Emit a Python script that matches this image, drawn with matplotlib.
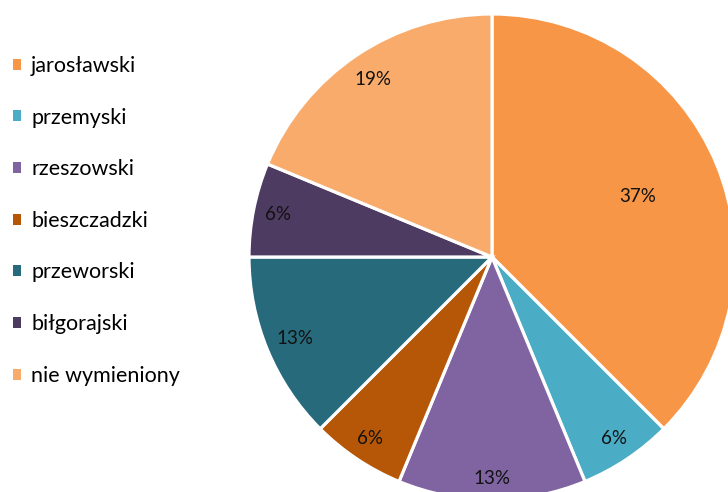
import matplotlib.pyplot as plt
import numpy as np

names = ['jarosławski', 'przemyski', 'rzeszowski', 'bieszczadzki',
         'przeworski', 'biłgorajski', 'nie wymieniony']
counts = [6, 1, 2, 1, 2, 1, 3]
pct_labels = ['37%', '6%', '13%', '6%', '13%', '6%', '19%']
colors = ['#F79646', '#4BACC6', '#8064A2', '#B65708',
          '#276A7C', '#4E3B62', '#F9AB6B']

plt.rcParams['font.family'] = ['Lato', 'DejaVu Sans']

fig = plt.figure(figsize=(7.28, 4.92), dpi=100)
W, H = 728, 492
cx, cy, r = 492, 257, 243
ax = fig.add_axes([(cx - r) / W, (H - cy - r) / H, 2 * r / W, 2 * r / H])

wedges, _ = ax.pie(counts, colors=colors, startangle=90, counterclock=False,
                   wedgeprops=dict(edgecolor='white', linewidth=2.3))
ax.set_xlim(-1, 1)
ax.set_ylim(-1, 1)
ax.set_aspect('equal')
ax.axis('off')

# label distance from centre, fraction of radius
dists = [0.65, 0.9, 0.91, 0.9, 0.88, 0.9, 0.88]
for w, lab, d in zip(wedges, pct_labels, dists):
    ang = np.deg2rad((w.theta1 + w.theta2) / 2)
    ax.text(d * np.cos(ang), d * np.sin(ang), lab, ha='center', va='center',
            fontsize=13.5, color='#111111')

leg = fig.legend(wedges, names, loc='upper left', bbox_to_anchor=(-0.003, 0.917),
                 frameon=False, fontsize=15.5, handlelength=0.4, handleheight=0.4,
                 handletextpad=0.45, labelspacing=1.47, borderaxespad=0.3)
for h in leg.legend_handles:
    h.set_linewidth(0)

fig.savefig('out.png', dpi=100)
